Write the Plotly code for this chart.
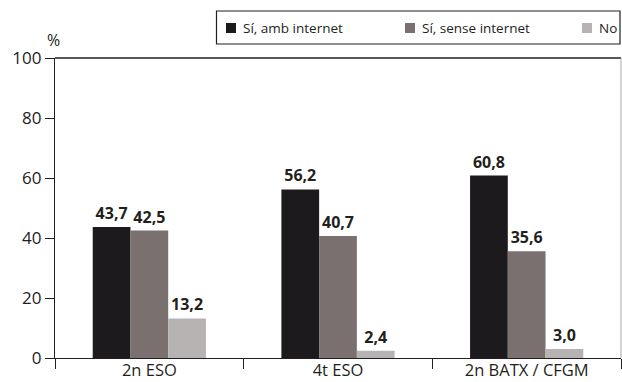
import plotly.graph_objects as go

categories = ["2n ESO", "4t ESO", "2n BATX / CFGM"]
series_names = ["Sí, amb internet", "Sí, sense internet", "No"]
amb_internet = [43.7, 56.2, 60.8]
sense_internet = [42.5, 40.7, 35.6]
no_values = [13.2, 2.4, 3.0]
y_ticks = [0, 20, 40, 60, 80, 100]

colors = ["#1c1a1c", "#7a7070", "#b8b3b3"]
FONT = "Open Sans"

fig = go.Figure()
for name, vals, col in zip(series_names, [amb_internet, sense_internet, no_values], colors):
    fig.add_trace(go.Bar(
        x=categories, y=vals, name=name, marker=dict(color=col, line=dict(width=0)),
        texttemplate="%{y:.1f}", textposition="outside", cliponaxis=False,
        textfont=dict(family=FONT, size=16, color="#231f20", weight="bold"),
        showlegend=False,
    ))

fig.update_layout(
    width=622, height=382,
    margin=dict(l=55, r=1, t=58, b=24),
    paper_bgcolor="white", plot_bgcolor="white",
    barmode="group", bargap=0.4, bargroupgap=0,
    separators=",.",
    font=dict(family=FONT, size=17, color="#231f20"),
    xaxis=dict(type="category", range=[-0.5, 2.5], showline=True, linecolor="#231f20", linewidth=1.3,
               ticks="outside", tickson="boundaries", ticklen=10, tickcolor="#231f20", tickwidth=1.3,
               showgrid=False, tickfont=dict(size=16.5), mirror=False, automargin=False,
               ticklabelstandoff=-3),
    yaxis=dict(range=[0, 100], tickvals=y_ticks, showline=True, linecolor="#231f20", linewidth=1.3,
               ticks="outside", ticklen=9, tickcolor="#231f20", tickwidth=1.3,
               showgrid=False, zeroline=False, tickfont=dict(size=17), automargin=False),
    showlegend=False,
)

# top and right frame lines
fig.add_shape(type="line", xref="paper", yref="paper", x0=0, x1=1, y0=1, y1=1,
              line=dict(color="#231f20", width=1.3))
fig.add_shape(type="line", xref="paper", yref="paper", x0=1, x1=1, y0=0, y1=1,
              line=dict(color="#aaaaaa", width=1))

def px_x(px):
    return (px - 55) / 566.0

def px_y(py):
    return (358 - py) / 300.0

# "%" unit label
fig.add_annotation(text="%", xref="paper", yref="paper", x=px_x(53), y=px_y(40), xanchor="center", yanchor="middle",
                   showarrow=False, font=dict(size=16))

# legend box (manual)
fig.add_shape(type="rect", xref="paper", yref="paper", x0=px_x(216.5), x1=px_x(620), y0=px_y(44), y1=px_y(11),
              line=dict(color="#231f20", width=1.2), fillcolor="white")
sq_x = [226, 405, 582]
for sx, col, name in zip(sq_x, colors, series_names):
    fig.add_shape(type="rect", xref="paper", yref="paper", x0=px_x(sx), x1=px_x(sx + 10),
                  y0=px_y(33), y1=px_y(23), line=dict(width=0), fillcolor=col)
    fig.add_annotation(text=name, xref="paper", yref="paper", x=px_x(sx + 15), y=px_y(28),
                       xanchor="left", yanchor="middle", showarrow=False, font=dict(size=13.5))

fig.write_html("out.html", config={"displayModeBar": False},
               post_script="document.body.style.margin='0';document.body.style.overflow='hidden';")
